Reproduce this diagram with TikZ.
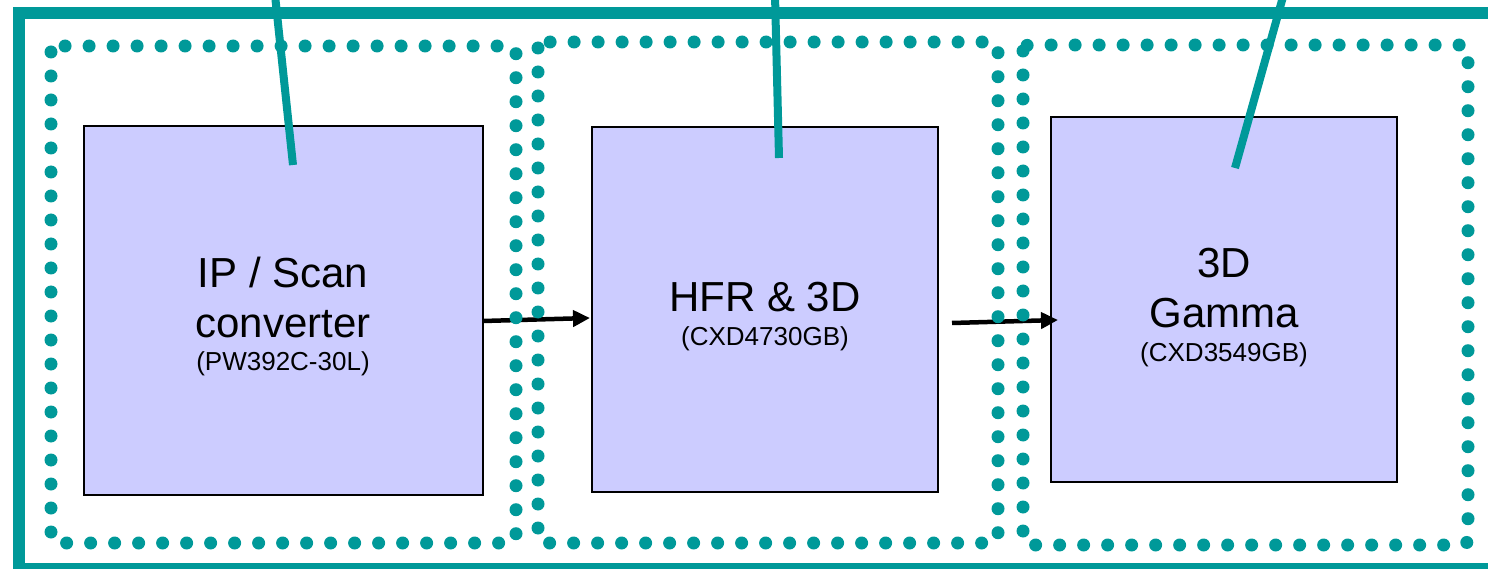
\documentclass[tikz,border=0pt]{standalone}
\usepackage{fontspec}
\setmainfont{Liberation Sans}
\usetikzlibrary{arrows.meta}
\definecolor{tealc}{HTML}{009999}
\definecolor{chipfill}{HTML}{CCCCFF}
\begin{document}
\begin{tikzpicture}[x=1pt,y=-1pt,
  chip/.style={draw=black, line width=1.5pt, fill=chipfill, inner sep=0pt},
  dotframe/.style={draw=tealc, line width=13pt, line cap=round, dash pattern=on 0pt off 24pt, rounded corners=6pt},
  outerframe/.style={draw=tealc, line width=12pt},
  probe/.style={draw=tealc, line width=8pt},
  flow/.style={draw=black, line width=4.5pt, -{Triangle[length=17pt,width=16pt]}},
  big/.style={font=\fontsize{42}{50}\selectfont, align=center, anchor=base, inner sep=0pt},
  small/.style={font=\fontsize{26}{30}\selectfont, anchor=base, inner sep=0pt}]
\useasboundingbox (0,0) rectangle (1488,569);
\draw[outerframe] (18.5,13) rectangle (1520,569);
% chips
\node[chip, minimum width=399pt, minimum height=369pt] (b1) at (283.5,310.5) {};
\node[chip, minimum width=346pt, minimum height=365pt] (b2) at (765,309.5) {};
\node[chip, minimum width=346pt, minimum height=365pt] (b3) at (1224,299.5) {};
% texts
\node[big] (l1) at (283,337) {IP / Scan\\converter};
\node[small] (p1) at (283,370) {(PW392C-30L)};
\node[big] (l2) at (765,312) {HFR \& 3D};
\node[small] (p2) at (765,345) {(CXD4730GB)};
\node[big] (l3) at (1224,327) {3D\\Gamma};
\node[small] (p3) at (1224,361) {(CXD3549GB)};
% arrows
\coordinate (a1s) at (483,321);
\coordinate (a1e) at (590,318);
\coordinate (a2s) at (952,323);
\coordinate (a2e) at (1058,320);
\draw[flow] (a1s) -- (a1e);
\draw[flow] (a2s) -- (a2e);
% dotted frames
\draw[dotframe] (51,46) rectangle (516,543);
\draw[dotframe] (538,42) rectangle (998,543);
\draw[dotframe] (1023,45) rectangle (1468,545);
% probe lines
\coordinate (t1) at (275,-5);
\coordinate (e1) at (293,165);
\coordinate (t2) at (775,-5);
\coordinate (e2) at (779,158);
\coordinate (t3) at (1283.5,-5);
\coordinate (e3) at (1235,168);
\draw[probe] (t1) -- (e1);
\draw[probe] (t2) -- (e2);
\draw[probe] (t3) -- (e3);
\end{tikzpicture}
\end{document}
